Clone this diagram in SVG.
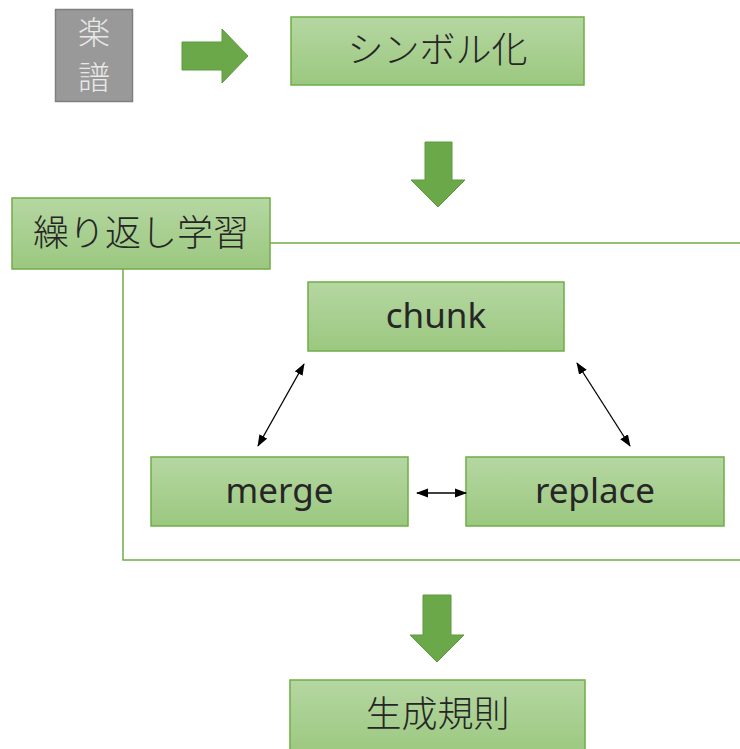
<svg xmlns="http://www.w3.org/2000/svg" width="740" height="749" viewBox="0 0 740 749">
<defs>
<linearGradient id="g" x1="0" y1="0" x2="0" y2="1">
<stop offset="0" stop-color="#b5d7a2"/>
<stop offset="1" stop-color="#9bc87f"/>
</linearGradient>
<marker id="ah" viewBox="0 0 12 10" refX="11" refY="5" markerWidth="12" markerHeight="10" markerUnits="userSpaceOnUse" orient="auto-start-reverse">
<path d="M0,0.5 L12,5 L0,9.5 z" fill="#000"/>
</marker>
<style>
.box{fill:url(#g);stroke:#70ad47;stroke-width:1.5}
.jp{font-family:"Noto Sans CJK JP","Noto Sans",sans-serif;font-size:36px;font-weight:300;fill:#262626;text-anchor:middle}
.gk{font-family:"Noto Sans CJK JP","Noto Sans",sans-serif;font-size:32px;font-weight:300;fill:#e8e8e8;text-anchor:middle}
.en{font-family:"Noto Sans","Noto Sans CJK JP",sans-serif;font-size:35px;fill:#262626;text-anchor:middle}
.big{fill:#6aa84a;stroke:#5d9a3c;stroke-width:1}
.frame{fill:none;stroke:#70ad47;stroke-width:1.5}
.conn{stroke:#000;stroke-width:1.3;fill:none;marker-start:url(#ah);marker-end:url(#ah)}
</style>
</defs>
<g id="gakufu">
<rect x="55.5" y="9.5" width="77" height="92" fill="#999999" stroke="#7f7f7f" stroke-width="1.5"/>
<text x="94" y="44" class="gk">楽</text>
<text x="94" y="89" class="gk">譜</text>
</g>
<g id="symbolize">
<rect x="291" y="17" width="293" height="68" class="box"/>
<text x="437.5" y="63" class="jp">シンボル化</text>
</g>
<g id="loop-label">
<rect x="12" y="198" width="258" height="71" class="box"/>
<text x="141" y="246" class="jp">繰り返し学習</text>
</g>
<g id="chunk">
<rect x="308" y="282" width="256" height="69" class="box"/>
<text x="436" y="328" class="en">chunk</text>
</g>
<g id="merge">
<rect x="151" y="457" width="257" height="69" class="box"/>
<text x="279.5" y="503" class="en">merge</text>
</g>
<g id="replace">
<rect x="466" y="457" width="258" height="69" class="box"/>
<text x="595" y="503" class="en">replace</text>
</g>
<g id="rules">
<rect x="290" y="680" width="295" height="75" class="box"/>
<text x="437.5" y="727" class="jp">生成規則</text>
</g>
<g id="connectors">
<path class="frame" d="M270,243 H740 M123,269 V560 H740"/>
<path class="big" d="M182,42 H222 V29 L248,56 L222,83 V70 H182 Z"/>
<path class="big" d="M425,142 H452 V180 H465 L438,207 L411,180 H425 Z"/>
<path class="big" d="M423,595 H451 V635 H464 L437,662 L410,635 H423 Z"/>
<line class="conn" x1="304" y1="364" x2="258" y2="446"/>
<line class="conn" x1="577" y1="363" x2="630" y2="446"/>
<line class="conn" x1="417" y1="493" x2="466" y2="493"/>
</g>
</svg>
